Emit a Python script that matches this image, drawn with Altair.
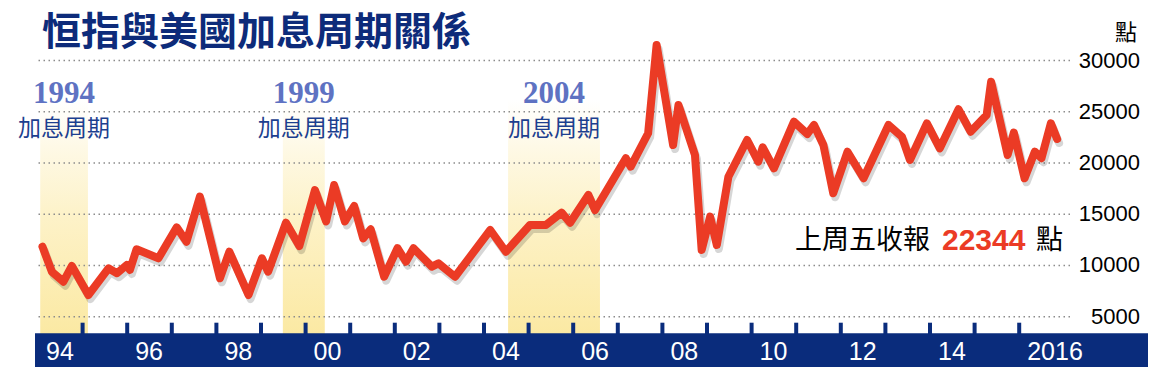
import altair as alt
import pandas as pd

# ---------------- data ----------------
years = [1994.10, 1994.31, 1994.57, 1994.76, 1995.13, 1995.58, 1995.77, 1995.99,
         1996.06, 1996.21, 1996.70, 1997.11, 1997.33, 1997.63, 1998.08, 1998.29,
         1998.72, 1999.02, 1999.16, 1999.56, 1999.86, 2000.21, 2000.46, 2000.64,
         2000.88, 2001.09, 2001.29, 2001.46, 2001.76, 2002.06, 2002.25, 2002.42,
         2002.83, 2002.98, 2003.35, 2004.14, 2004.49, 2005.03, 2005.39, 2005.74,
         2005.93, 2006.34, 2006.49, 2007.18, 2007.29, 2007.68, 2007.87, 2008.24,
         2008.36, 2008.73, 2008.88, 2009.07, 2009.22, 2009.48, 2009.90, 2010.15,
         2010.25, 2010.50, 2010.95, 2011.25, 2011.40, 2011.61, 2011.83, 2012.15,
         2012.51, 2013.07, 2013.37, 2013.55, 2013.93, 2014.22, 2014.64, 2014.91,
         2015.27, 2015.37, 2015.74, 2015.88, 2016.12, 2016.35, 2016.50, 2016.71,
         2016.85]
hsi = [11830, 9390, 8420, 9950, 7120, 9720, 9240, 10050,
       9560, 11580, 10700, 13720, 12320, 16710, 8750, 11340,
       7120, 10700, 9390, 14170, 11900, 17360, 14300, 17850,
       14300, 15800, 12650, 13530, 8900, 11680, 10370, 11680,
       9880, 10210, 8900, 13460, 11340, 13950, 13950, 15150,
       14170, 16880, 15410, 20460, 19640, 22900, 31510, 21750,
       25660, 20780, 11510, 14760, 12000, 18660, 22240, 20130,
       21530, 19480, 24030, 22830, 23710, 21750, 17040, 21100,
       18510, 23710, 22570, 20290, 23870, 21430, 25240, 23050,
       24680, 27930, 20780, 22960, 18510, 21100, 20460, 23870,
       22344]

band_start = [1994.05, 1999.49, 2004.54]
band_end = [1995.12, 2000.43, 2006.60]
band_year = ["1994", "1999", "2004"]
band_label = ["加息周期", "加息周期", "加息周期"]

tick_years = list(range(1995, 2017))
label_years = [1994, 1996, 1998, 2000, 2002, 2004, 2006, 2008, 2010, 2012, 2014, 2016]
label_text = ["94", "96", "98", "00", "02", "04", "06", "08", "10", "12", "14", "2016"]

y_ticks = [5000, 10000, 15000, 20000, 25000, 30000]
y_tick_text = ["5000", "10000", "15000", "20000", "25000", "30000"]

title_text = "恒指與美國加息周期關係"
unit_text = "點"
note_text = "上周五收報"
note_value = "22344"
note_unit = "點"

# ---------------- layout / styles ----------------
W, H = 1035, 359
PX_YEAR = 44.6
x_domain = [1994 - 3 / PX_YEAR, 1994 + (W - 3) / PX_YEAR]
ppu = 256.2 / 25000
y_domain = [5000 - (H - 308.7) / ppu, 30000 + 52.5 / ppu]
xs = alt.Scale(domain=x_domain, nice=False, zero=False)
ys = alt.Scale(domain=y_domain, nice=False, zero=False)

RED = "#EB3B25"
NAVY = "#0A2C7C"
CJK = "Noto Sans CJK TC"
LAT = "Liberation Sans"

df = pd.DataFrame({"year": years, "value": hsi})
bands = pd.DataFrame({"start": band_start, "end": band_end,
                      "yr": band_year, "lab": band_label})
ticks = pd.DataFrame({"t": tick_years})
xlab = pd.DataFrame({"yr": label_years, "txt": label_text})
ylab = pd.DataFrame({"v": y_ticks, "txt": y_tick_text})
one = alt.Data(values=[{"a": 1}])

grad = alt.LinearGradient(
    gradient="linear", x1=0, x2=0, y1=0, y2=1,
    stops=[alt.GradientStop(offset=0, color="#FFFFFF"),
           alt.GradientStop(offset=0.2, color="#FEF9E6"),
           alt.GradientStop(offset=0.5, color="#FDF2C8"),
           alt.GradientStop(offset=1, color="#FBE9A3")])

band_layer = alt.Chart(bands).mark_rect(color=grad).encode(
    x=alt.X("start:Q", scale=xs, axis=None), x2="end:Q",
    y=alt.value(92), y2=alt.value(326))

grid_layer = alt.Chart(ylab).mark_rule(
    color="#8C8C8C", strokeWidth=1.5, strokeDash=[1.5, 3.5]).encode(
    y=alt.Y("v:Q", scale=ys, axis=None))

band_year_layer = alt.Chart(bands).transform_calculate(
    mid="(datum.start + datum.end) / 2").mark_text(
    font="Liberation Serif", fontWeight="bold", fontSize=31,
    color="#5E72C2", baseline="middle", align="center").encode(
    x=alt.X("mid:Q", scale=xs, axis=None), y=alt.value(86), text="yr:N")

band_lab_layer = alt.Chart(bands).transform_calculate(
    mid="(datum.start + datum.end) / 2").mark_text(
    font=CJK, fontSize=23, color="#1D3F8F", baseline="middle",
    align="center").encode(
    x=alt.X("mid:Q", scale=xs, axis=None), y=alt.value(121), text="lab:N")

shadow = alt.Chart(df).mark_line(
    color="#000000", opacity=0.16, strokeWidth=8, xOffset=2, yOffset=4,
    strokeJoin="round", strokeCap="round").encode(
    x=alt.X("year:Q", scale=xs, axis=None),
    y=alt.Y("value:Q", scale=ys, axis=None))

line = alt.Chart(df).mark_line(
    color=RED, strokeWidth=8, strokeJoin="round", strokeCap="round").encode(
    x=alt.X("year:Q", scale=xs, axis=None),
    y=alt.Y("value:Q", scale=ys, axis=None))

bar = alt.Chart(one).mark_rect(color=NAVY).encode(
    x=alt.value(0), x2=alt.value(1113), y=alt.value(325.3), y2=alt.value(H))

tick_layer = alt.Chart(ticks).mark_rule(color=NAVY, strokeWidth=4).encode(
    x=alt.X("t:Q", scale=xs, axis=None), y=alt.value(314.7), y2=alt.value(326))

xlab_layer = alt.Chart(xlab).mark_text(
    font=LAT, fontSize=25, color="white", align="left", baseline="middle",
    dx=8).encode(
    x=alt.X("yr:Q", scale=xs, axis=None), y=alt.value(344), text="txt:N")

ylab_layer = alt.Chart(ylab).mark_text(
    font=LAT, fontSize=22, color="black", align="right",
    baseline="middle").encode(
    x=alt.value(1105), y=alt.Y("v:Q", scale=ys, axis=None), text="txt:N")

title_layer = alt.Chart(one).mark_text(
    text=title_text, font=CJK, fontWeight="bold", fontSize=39, color="#0D2B7A",
    align="left", baseline="middle").encode(x=alt.value(7), y=alt.value(25))

unit_layer = alt.Chart(one).mark_text(
    text=unit_text, font=CJK, fontSize=22, color="black",
    align="center", baseline="middle").encode(x=alt.value(1091), y=alt.value(25))

note1 = alt.Chart(one).mark_text(
    text=note_text, font=CJK, fontSize=27, color="black",
    align="left", baseline="middle").encode(x=alt.value(760), y=alt.value(233))
note2 = alt.Chart(one).mark_text(
    text=note_value, font=LAT, fontWeight="bold", fontSize=30, color=RED,
    align="left", baseline="middle").encode(x=alt.value(907), y=alt.value(233))
note3 = alt.Chart(one).mark_text(
    text=note_unit, font=CJK, fontSize=27, color="black",
    align="left", baseline="middle").encode(x=alt.value(1001), y=alt.value(233))

chart = alt.layer(
    band_layer, grid_layer, band_year_layer, band_lab_layer, shadow, line,
    bar, tick_layer, xlab_layer, ylab_layer, title_layer, unit_layer,
    note1, note2, note3
).properties(
    width=W, height=H,
    padding={"left": 27, "top": 0, "right": 80, "bottom": 0},
    autosize=alt.AutoSizeParams(type="none"),
    background="white",
).configure_view(stroke=None)

chart.save("out.html", embed_options={"renderer": "svg", "actions": False})
